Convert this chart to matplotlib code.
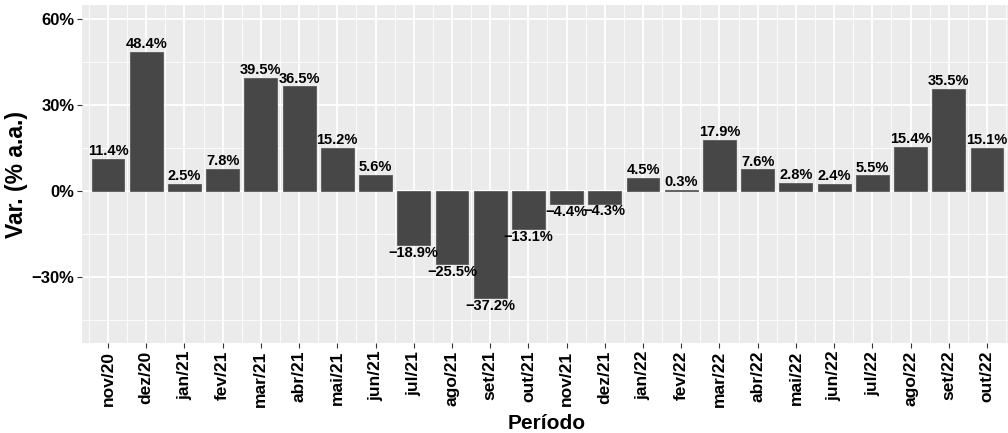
import matplotlib
matplotlib.use("Agg")
import matplotlib.pyplot as plt
from matplotlib.ticker import FixedLocator

periods = ["nov/20", "dez/20", "jan/21", "fev/21", "mar/21", "abr/21", "mai/21", "jun/21",
           "jul/21", "ago/21", "set/21", "out/21", "nov/21", "dez/21", "jan/22", "fev/22",
           "mar/22", "abr/22", "mai/22", "jun/22", "jul/22", "ago/22", "set/22", "out/22"]
values = [11.4, 48.4, 2.5, 7.8, 39.5, 36.5, 15.2, 5.6,
          -18.9, -25.5, -37.2, -13.1, -4.4, -4.3, 4.5, 0.3,
          17.9, 7.6, 2.8, 2.4, 5.5, 15.4, 35.5, 15.1]
y_ticks = [-30, 0, 30, 60]
y_minor = [-45, -15, 15, 45]

plt.rcParams['font.family'] = ['Liberation Sans', 'DejaVu Sans']

fig = plt.figure(figsize=(10.08, 4.33), dpi=100)
ax = fig.add_axes([82/1008, 90/433, 931/1008, 338/433])
ax.set_facecolor("#EBEBEB")
for s in ax.spines.values():
    s.set_visible(False)

x = list(range(len(periods)))
ax.bar(x, values, width=0.86, color="#474747", edgecolor="#5a5a5a", linewidth=0.6, zorder=3)

ax.set_xlim(-0.68, len(periods) - 1 + 0.68)
ax.set_ylim(-52.9, 64.9)

ax.set_xticks(x)
ax.set_xticklabels(periods, rotation=90, fontsize=12.5, fontweight='bold', color='black')
ax.xaxis.set_minor_locator(FixedLocator([i + 0.5 for i in range(-1, len(periods))]))
ax.set_yticks(y_ticks)
ax.set_yticklabels([("\u2212" if v < 0 else "") + f"{abs(v)}%" for v in y_ticks],
                   fontsize=12, fontweight='bold', color='black')
ax.yaxis.set_minor_locator(FixedLocator(y_minor))

ax.grid(which='major', color='white', linewidth=1.3, zorder=0)
ax.grid(which='minor', color='white', linewidth=0.6, zorder=0)
ax.set_axisbelow(True)
ax.tick_params(which='major', length=3.5, width=0.8, color='#333333', pad=2)
ax.tick_params(which='minor', length=0)

for xi, v in zip(x, values):
    txt = ("\u2212" if v < 0 else "") + f"{abs(v):.1f}%"
    ax.text(xi, v + (0.3 if v >= 0 else -0.3), txt, ha='center',
            va='bottom' if v >= 0 else 'top', fontsize=10.5, fontweight='bold',
            color='black', zorder=4)

ax.set_xlabel("Período", fontsize=15, fontweight='bold')
ax.set_ylabel("Var. (% a.a.)", fontsize=16.5, fontweight='bold')
ax.xaxis.set_label_coords((547 - 82) / 931, -(414 - 343) / 338)
ax.yaxis.set_label_coords(-(82 - 28) / 931, 0.5)

fig.savefig("out.png", dpi=100)
